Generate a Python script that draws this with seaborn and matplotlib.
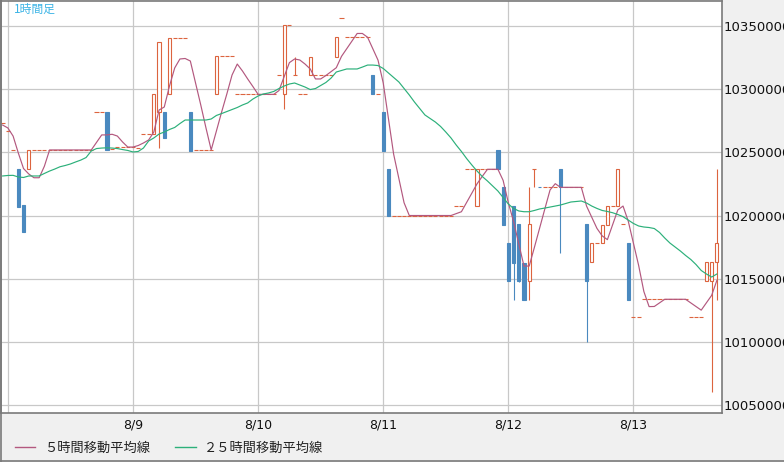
import matplotlib
matplotlib.use("Agg")
import numpy as np
import pandas as pd
import matplotlib.pyplot as plt
import matplotlib.dates as mdates
import seaborn as sns
from matplotlib.lines import Line2D

# --- data: hourly candles (8/7 23:00 .. 8/13 16:00) ---
start = "2024-08-07 23:00"

opens = [
    10273200, 10266900, 10251900, 10236800, 10208300, 10236600, 10251900, 10251900, 10251900, 10251900,
    10251900, 10251900, 10251900, 10251900, 10251900, 10251900, 10251900, 10251900, 10281700, 10281700,
    10281700, 10252400, 10254200, 10254200, 10254200, 10254200, 10253400, 10264300, 10264300, 10264300,
    10282200, 10282200, 10296200, 10340300, 10340300, 10340300, 10282200, 10251500, 10251500, 10251500,
    10251500, 10296200, 10326300, 10326300, 10326300, 10295900, 10295900, 10295900, 10295900, 10295900,
    10295900, 10295900, 10295900, 10311000, 10295900, 10350800, 10311000, 10295900, 10295900, 10311000,
    10311000, 10311000, 10311000, 10311000, 10325700, 10356100, 10341100, 10341100, 10341100, 10341100,
    10341100, 10311000, 10295900, 10281900, 10236800, 10200000, 10200000, 10200000, 10200000, 10200000,
    10200000, 10200000, 10200000, 10200000, 10200000, 10200000, 10200000, 10207500, 10207500, 10236600,
    10236600, 10207800, 10236600, 10236600, 10236600, 10251900, 10222800, 10178500, 10207500, 10193300,
    10162700, 10148400, 10236600, 10222400, 10222300, 10222300, 10222300, 10236600, 10222300, 10222300,
    10222300, 10222300, 10193300, 10163000, 10178000, 10178000, 10192500, 10207500, 10207500, 10193000,
    10178000, 10119400, 10119400, 10133700, 10133700, 10133700, 10133700, 10133700, 10133700, 10133700,
    10133700, 10133700, 10119400, 10119400, 10119400, 10148400, 10148400, 10163000,
]
highs = [
    10273200, 10266900, 10251900, 10236800, 10208300, 10251900, 10251900, 10251900, 10251900, 10251900,
    10251900, 10251900, 10251900, 10251900, 10251900, 10251900, 10251900, 10251900, 10281700, 10281700,
    10281700, 10252400, 10254200, 10254200, 10254200, 10254200, 10253400, 10264300, 10264300, 10296200,
    10337300, 10282200, 10340300, 10340300, 10340300, 10340300, 10282200, 10251500, 10251500, 10251500,
    10251500, 10326300, 10326300, 10326300, 10326300, 10295900, 10295900, 10295900, 10295900, 10295900,
    10295900, 10295900, 10295900, 10311000, 10350800, 10350800, 10325700, 10295900, 10295900, 10325700,
    10311000, 10311000, 10311000, 10311000, 10341100, 10356100, 10341100, 10341100, 10341100, 10341100,
    10341100, 10311000, 10295900, 10281900, 10236800, 10200000, 10200000, 10200000, 10200000, 10200000,
    10200000, 10200000, 10200000, 10200000, 10200000, 10200000, 10200000, 10207500, 10207500, 10236600,
    10236600, 10236600, 10236600, 10236600, 10236600, 10251900, 10222800, 10178500, 10207500, 10193300,
    10162700, 10222800, 10236600, 10222400, 10222300, 10222300, 10222300, 10236600, 10222300, 10222300,
    10222300, 10222300, 10193300, 10178000, 10178000, 10192500, 10207500, 10207500, 10236600, 10193000,
    10178000, 10119400, 10119400, 10133700, 10133700, 10133700, 10133700, 10133700, 10133700, 10133700,
    10133700, 10133700, 10119400, 10119400, 10119400, 10163000, 10163000, 10236800,
]
lows = [
    10273200, 10266900, 10251900, 10207000, 10187200, 10236600, 10251900, 10251900, 10251900, 10251900,
    10251900, 10251900, 10251900, 10251900, 10251900, 10251900, 10251900, 10251900, 10281700, 10281700,
    10251900, 10252400, 10254200, 10254200, 10254200, 10254200, 10253400, 10264300, 10264300, 10264300,
    10253200, 10261600, 10296200, 10340300, 10340300, 10340300, 10251300, 10251500, 10251500, 10251500,
    10251500, 10296200, 10326300, 10326300, 10326300, 10295900, 10295900, 10295900, 10295900, 10295900,
    10295900, 10295900, 10295900, 10311000, 10284300, 10350800, 10311000, 10295900, 10295900, 10311000,
    10311000, 10311000, 10311000, 10311000, 10325700, 10356100, 10341100, 10341100, 10341100, 10341100,
    10341100, 10295900, 10295900, 10251100, 10200000, 10200000, 10200000, 10200000, 10200000, 10200000,
    10200000, 10200000, 10200000, 10200000, 10200000, 10200000, 10200000, 10207500, 10207500, 10236600,
    10236600, 10207800, 10236600, 10236600, 10236600, 10236600, 10192500, 10148400, 10133100, 10147500,
    10133100, 10133100, 10222300, 10222300, 10222300, 10222300, 10222300, 10170100, 10222300, 10222300,
    10222300, 10222300, 10100100, 10163000, 10178000, 10178000, 10192500, 10207500, 10207500, 10193000,
    10133100, 10119400, 10119400, 10133700, 10133700, 10133700, 10133700, 10133700, 10133700, 10133700,
    10133700, 10133700, 10119400, 10119400, 10119400, 10148400, 10060500, 10133100,
]
closes = [
    10273200, 10266900, 10251900, 10207000, 10187200, 10251900, 10251900, 10251900, 10251900, 10251900,
    10251900, 10251900, 10251900, 10251900, 10251900, 10251900, 10251900, 10251900, 10281700, 10281700,
    10251900, 10252400, 10254200, 10254200, 10254200, 10254200, 10253400, 10264300, 10264300, 10296200,
    10337300, 10261600, 10340300, 10340300, 10340300, 10340300, 10251300, 10251500, 10251500, 10251500,
    10251500, 10326300, 10326300, 10326300, 10326300, 10295900, 10295900, 10295900, 10295900, 10295900,
    10295900, 10295900, 10295900, 10311000, 10350800, 10350800, 10311000, 10295900, 10295900, 10325700,
    10311000, 10311000, 10311000, 10311000, 10341100, 10356100, 10341100, 10341100, 10341100, 10341100,
    10341100, 10295900, 10295900, 10251100, 10200000, 10200000, 10200000, 10200000, 10200000, 10200000,
    10200000, 10200000, 10200000, 10200000, 10200000, 10200000, 10200000, 10207500, 10207500, 10236600,
    10236600, 10236600, 10236600, 10236600, 10236600, 10236600, 10192500, 10148400, 10162700, 10148400,
    10133100, 10193300, 10236600, 10222300, 10222300, 10222300, 10222300, 10222300, 10222300, 10222300,
    10222300, 10222300, 10148400, 10178000, 10178000, 10192500, 10207500, 10207500, 10236600, 10193000,
    10133100, 10119400, 10119400, 10133700, 10133700, 10133700, 10133700, 10133700, 10133700, 10133700,
    10133700, 10133700, 10119400, 10119400, 10119400, 10163000, 10163000, 10178000,
]

# moving averages as shown on the chart
ma5 = [
    10271600, 10269300, 10262900, 10249500, 10237200, 10232900, 10229900, 10229900, 10239000, 10251900,
    10251900, 10251900, 10251900, 10251900, 10251900, 10251900, 10251900, 10251900, 10257800, 10263800,
    10263800, 10264300, 10262900, 10258200, 10254200, 10254200, 10255400, 10257400, 10259800, 10266100,
    10283500, 10285900, 10302500, 10316800, 10323900, 10324300, 10322300, 10304900, 10287500, 10269300,
    10251900, 10266900, 10281900, 10296200, 10311200, 10319900, 10314400, 10308100, 10302100, 10295900,
    10295900, 10295900, 10295900, 10298900, 10310000, 10321000, 10323900, 10323100, 10319900, 10316000,
    10308100, 10308100, 10310800, 10313900, 10317000, 10326000, 10332000, 10338000, 10344100, 10344100,
    10341100, 10332000, 10323000, 10305000, 10276800, 10248500, 10229400, 10210100, 10200000, 10200000,
    10200000, 10200000, 10200000, 10200000, 10200000, 10200000, 10200000, 10201500, 10203000, 10210300,
    10217700, 10225100, 10231000, 10236600, 10236600, 10236600, 10227800, 10210100, 10195300, 10177700,
    10160000, 10160000, 10174800, 10190100, 10205200, 10220200, 10225200, 10222300, 10222300, 10222300,
    10222300, 10222300, 10207500, 10198700, 10189800, 10183900, 10180900, 10192700, 10204400, 10207500,
    10195600, 10177900, 10160400, 10139800, 10127900, 10128000, 10130800, 10133700, 10133700, 10133700,
    10133700, 10133700, 10130800, 10128000, 10125100, 10131000, 10136800, 10148600,
]
ma25 = [
    10231300, 10231700, 10231800, 10230500, 10230100, 10231300, 10231300, 10231300, 10233300, 10235200,
    10236800, 10238600, 10239600, 10240800, 10242400, 10243900, 10245900, 10251100, 10253000, 10253400,
    10253600, 10253400, 10253000, 10252200, 10251500, 10250300, 10250700, 10253400, 10259000, 10261400,
    10264500, 10266100, 10268100, 10269700, 10272800, 10275600, 10275600, 10275600, 10275600, 10275600,
    10276400, 10279200, 10280700, 10282300, 10283900, 10285500, 10287500, 10289100, 10292200, 10294600,
    10296200, 10297000, 10298200, 10300500, 10302500, 10304100, 10304900, 10303300, 10301700, 10299700,
    10300500, 10302900, 10305300, 10308800, 10313600, 10314800, 10316000, 10316000, 10316000, 10317500,
    10319100, 10319100, 10318700, 10316400, 10312800, 10309200, 10305700, 10300500, 10295400, 10289800,
    10284700, 10279600, 10276800, 10274000, 10270500, 10266100, 10261400, 10255800, 10250700, 10245100,
    10240000, 10235200, 10230900, 10227300, 10223400, 10219400, 10214300, 10209100, 10205600, 10203600,
    10203000, 10203000, 10204000, 10205200, 10205900, 10206700, 10207500, 10208300, 10209500, 10210700,
    10211100, 10211500, 10209900, 10207500, 10205600, 10204000, 10203200, 10202200, 10200800, 10199100,
    10196400, 10193700, 10191700, 10190900, 10190500, 10189700, 10186600, 10182200, 10178200, 10175100,
    10171900, 10168400, 10165200, 10161200, 10156500, 10153700, 10151300, 10153700,
]

y_ticks = [10050000, 10100000, 10150000, 10200000, 10250000, 10300000, 10350000]
day_ticks = ["2024-08-08", "2024-08-09", "2024-08-10", "2024-08-11", "2024-08-12", "2024-08-13"]
day_labels = ["", "8/9", "8/10", "8/11", "8/12", "8/13"]
legend_labels = ["５時間移動平均線", "２５時間移動平均線"]

RED = "#dc643f"
BLUE = "#4a89bf"
C_MA5 = "#b3587f"
C_MA25 = "#2cb07a"
JP = ["Noto Sans CJK JP", "DejaVu Sans"]

# --- frame ---
times = pd.date_range(start, periods=len(closes), freq="h")
df = pd.DataFrame({"time": times, "ma5": ma5, "ma25": ma25})
xs = mdates.date2num(times)
o, h, l, c = (np.array(v, dtype=float) for v in (opens, highs, lows, closes))

fig = plt.figure(figsize=(7.84, 4.62), dpi=100, facecolor="#f0f0f0")
ax = fig.add_axes([1 / 784, 1 - 412.5 / 462, 720.5 / 784, 411.5 / 462])
ax.set_facecolor("white")

# moving averages
sns.lineplot(data=df, x="time", y="ma5", ax=ax, color=C_MA5, lw=0.85, label=legend_labels[0], zorder=5)
sns.lineplot(data=df, x="time", y="ma25", ax=ax, color=C_MA25, lw=0.85, label=legend_labels[1], zorder=5)

# candles
hr = 1 / 24
body_w = 0.62 * hr
flat_w = 0.78 * hr
up = c > o
down = c < o
flat = c == o
wick = h > l
wick_col = np.where(down, BLUE, RED)
ax.vlines(xs[wick], l[wick], h[wick], colors=wick_col[wick], lw=0.8, zorder=2)
ax.bar(xs[up], (c - o)[up], bottom=o[up], width=body_w, facecolor="white",
       edgecolor=RED, linewidth=0.8, zorder=3)
ax.bar(xs[down], (c - o)[down], bottom=o[down], width=body_w, facecolor=BLUE,
       edgecolor=BLUE, linewidth=0.8, zorder=3)
ax.hlines(c[flat], xs[flat] - flat_w / 2, xs[flat] + flat_w / 2, colors=RED, lw=0.8, zorder=3)

# axes cosmetics
base = mdates.date2num(pd.Timestamp("2024-08-09"))
ax.set_xlim(base - 25.32 * hr, base + 112.89 * hr)
ax.set_ylim(10044080, 10369800)
ax.set_xticks(mdates.date2num(pd.to_datetime(day_ticks)))
ax.set_xticklabels(day_labels)
ax.set_yticks(y_ticks)
ax.set_yticklabels([str(v) for v in y_ticks])
ax.yaxis.tick_right()
ax.tick_params(axis="x", length=0, pad=4.5, labelsize=9, labelcolor="#111111")
ax.tick_params(axis="y", length=0, pad=1.8, labelsize=9.5, labelcolor="#111111")
ax.set_xlabel("")
ax.set_ylabel("")
ax.grid(True, color="#c8c8c8", lw=0.9)
ax.set_axisbelow(True)
for s in ax.spines.values():
    s.set_color("#7a7a7a")
    s.set_linewidth(1.2)

if ax.get_legend() is not None:
    ax.get_legend().remove()
handles = [Line2D([], [], color=C_MA5, lw=1), Line2D([], [], color=C_MA25, lw=1)]
leg = fig.legend(handles, legend_labels, loc="center left", bbox_to_anchor=(15 / 784, 1 - 448 / 462),
                 ncol=2, frameon=False, handlelength=1.55, handletextpad=0.65, columnspacing=1.9,
                 borderpad=0, borderaxespad=0, prop={"family": JP, "size": 9.5})
for t in leg.get_texts():
    t.set_color("#222222")

fig.text(14 / 784, 1 - 3 / 462, "1時間足", color="#3cb4e6", fontsize=8.5, family=JP,
         ha="left", va="top")

# outer frame (left and bottom)
fig.add_artist(Line2D([0.6 / 784, 0.6 / 784], [0, 1], transform=fig.transFigure, color="#7a7a7a", lw=1.2))
fig.add_artist(Line2D([0, 1], [0.6 / 462, 0.6 / 462], transform=fig.transFigure, color="#7a7a7a", lw=1.2))

fig.savefig("out.png", dpi=100, facecolor=fig.get_facecolor())
